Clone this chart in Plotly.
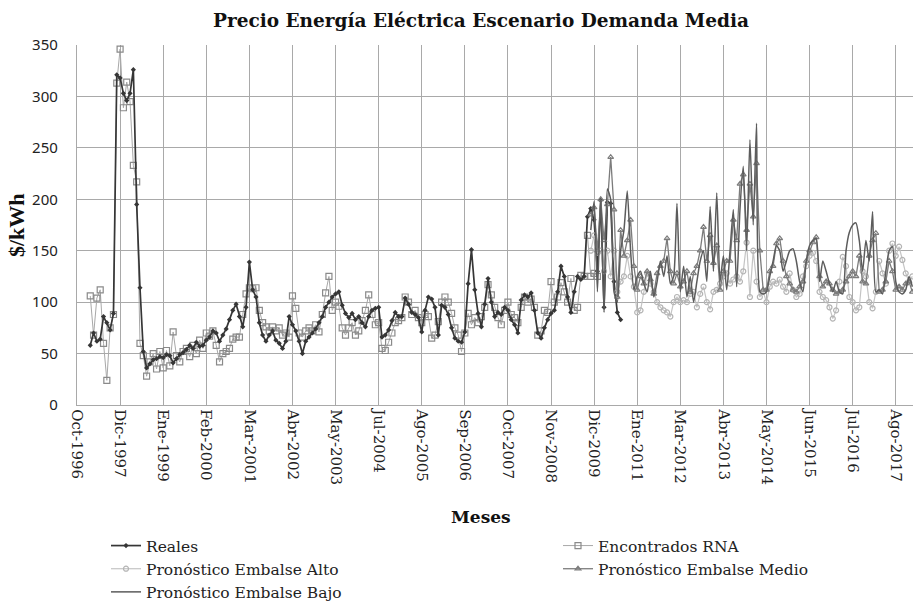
import plotly.graph_objects as go

tick_labels = ["Oct-1996", "Dic-1997", "Ene-1999", "Feb-2000", "Mar-2001", "Abr-2002",
               "May-2003", "Jul-2004", "Ago-2005", "Sep-2006", "Oct-2007", "Nov-2008",
               "Dic-2009", "Ene-2011", "Mar-2012", "Abr-2013", "May-2014", "Jun-2015",
               "Jul-2016", "Ago-2017"]
tick_step = 13
y_ticks = [0, 50, 100, 150, 200, 250, 300, 350]

# Reales: categories 4..164
reales_start = 4
reales = [58, 70, 62, 64, 86, 80, 73, 89, 321, 318, 303, 296, 303, 326, 195, 114, 52, 36,
          40, 44, 45, 47, 46, 49, 48, 41, 45, 49, 51, 54, 58, 55, 61, 57, 58, 63, 66, 72,
          70, 62, 68, 74, 83, 92, 98, 86, 76, 95, 139, 112, 105, 80, 68, 62, 68, 72, 63,
          60, 55, 62, 86, 78, 72, 62, 50, 62, 66, 70, 74, 80, 86, 95, 100, 105, 108, 110,
          97, 89, 85, 89, 83, 86, 80, 76, 86, 92, 94, 95, 66, 68, 73, 82, 90, 86, 86, 104,
          98, 90, 88, 85, 71, 92, 105, 103, 95, 68, 97, 95, 88, 75, 65, 62, 61, 71, 118,
          151, 112, 89, 76, 98, 123, 100, 86, 90, 88, 95, 92, 83, 78, 70, 102, 107, 105,
          109, 92, 70, 65, 75, 83, 89, 92, 110, 135, 125, 105, 90, 110, 125, 122, 125, 183,
          191, 180, 130, 199, 95, 197, 196, 120, 90, 83]

# Encontrados RNA: categories 4..157
rna_start = 4
rna = [106, 68, 104, 112, 60, 24, 75, 88, 313, 346, 289, 314, 295, 233, 217, 60, 48, 28,
       42, 50, 35, 52, 36, 53, 38, 71, 48, 42, 52, 55, 47, 58, 50, 63, 55, 70, 67, 72, 58,
       42, 50, 52, 55, 64, 66, 66, 88, 108, 114, 113, 114, 92, 80, 76, 72, 76, 72, 75, 68,
       70, 66, 106, 94, 70, 66, 72, 75, 72, 78, 71, 88, 109, 125, 92, 100, 96, 75, 68, 75,
       80, 68, 72, 82, 92, 107, 88, 78, 80, 55, 53, 61, 70, 80, 82, 85, 105, 100, 88, 92,
       85, 80, 88, 86, 65, 68, 81, 100, 105, 100, 89, 75, 68, 52, 70, 89, 78, 85, 80, 86,
       95, 117, 107, 95, 85, 78, 92, 100, 88, 85, 80, 95, 105, 100, 103, 95, 68, 72, 92,
       90, 120, 100, 105, 119, 110, 100, 123, 92, 95, 126, 125, 165, 125, 128, 125]

# Pronósticos: categories 155..252
fc_start = 155
alto = [150, 165, 148, 150, 130, 150, 125, 150, 110, 120, 125, 145, 125, 115,
        90, 92, 110, 128, 118, 110, 100, 95, 92, 90, 86, 100,
        105, 100, 102, 100, 108, 110, 95, 108, 115, 100, 93, 110, 112, 118, 125, 128,
        118, 122, 125, 120, 130, 158, 105, 150, 120, 105,
        110, 100, 115, 120, 118, 122, 115, 110, 128, 112, 105, 108, 125, 135, 145, 148,
        140, 110, 105, 102, 95, 84, 92, 120, 144, 135, 105, 100, 92, 95, 130, 125, 100,
        94, 110, 140, 128, 118, 150, 157, 145, 154, 141, 128, 120, 125]
medio = [185, 192, 150, 200, 160, 195, 241, 190, 105, 170, 145, 160, 180, 135,
         112, 125, 118, 130, 122, 108, 128, 135, 140, 162, 130, 118,
         128, 115, 120, 130, 110, 128, 135, 150, 173, 140, 165, 138, 155, 112, 130, 140,
         140, 180, 160, 215, 224, 170, 215, 183, 235, 150,
         112, 112, 130, 135, 157, 162, 140, 125, 118, 112, 110, 115, 120, 140, 150, 158,
         163, 125, 115, 120, 118, 112, 108, 110, 112, 120, 125, 130, 125, 145, 120, 118,
         145, 160, 167, 110, 112, 120, 140, 130, 112, 115, 112, 118, 120, 110]
bajo = [170, 198, 110, 200, 90, 210, 200, 110, 100, 150, 170, 208, 150, 112,
        125, 130, 118, 110, 130, 105, 120, 140, 125, 145, 118, 125,
        196, 110, 135, 105, 125, 100, 120, 140, 150, 120, 193, 130, 206, 120, 145, 112,
        150, 190, 115, 190, 232, 150, 258, 175, 274, 110,
        108, 110, 125, 140, 155, 150, 130, 140, 150, 152, 140, 120, 110, 140, 155, 160,
        162, 120, 140, 130, 118, 110, 120, 110, 108, 150, 168, 175, 177, 160, 130, 160,
        140, 188, 110, 112, 108, 130, 150, 154, 120, 110, 108, 112, 125, 115]

SERIF = "Liberation Serif"
WIDE_SERIF = "DejaVu Serif"


def xs(start, vals):
    return list(range(start, start + len(vals)))


fig = go.Figure()
fig.add_trace(go.Scatter(
    x=xs(rna_start, rna), y=rna, name="Encontrados RNA", mode="lines+markers",
    line=dict(color="#a8a8a8", width=1),
    marker=dict(symbol="square-open", size=6, color="#8a8a8a", line=dict(width=1.2)),
    legend="legend2", legendrank=1))
fig.add_trace(go.Scatter(
    x=xs(reales_start, reales), y=reales, name="Reales", mode="lines+markers",
    line=dict(color="#363636", width=1.7),
    marker=dict(symbol="diamond", size=4, color="#363636"),
    legend="legend", legendrank=1))
fig.add_trace(go.Scatter(
    x=xs(fc_start, alto), y=alto, name="Pronóstico Embalse Alto", mode="lines+markers",
    line=dict(color="#c4c4c4", width=1.2),
    marker=dict(symbol="circle-open", size=5, color="#b4b4b4", line=dict(width=1.2)),
    legend="legend", legendrank=2))
fig.add_trace(go.Scatter(
    x=xs(fc_start, medio), y=medio, name="Pronóstico Embalse Medio", mode="lines+markers",
    line=dict(color="#7c7c7c", width=1.3),
    marker=dict(symbol="triangle-up-open", size=5, color="#7c7c7c", line=dict(width=1.2)),
    legend="legend2", legendrank=2))
fig.add_trace(go.Scatter(
    x=xs(fc_start, bajo), y=bajo, name="Pronóstico Embalse Bajo", mode="lines",
    line=dict(color="#5c5c5c", width=1.5, shape="spline", smoothing=0.6),
    legend="legend", legendrank=3))

legend_common = dict(orientation="v", yref="container", y=1 - 529 / 602, yanchor="top",
                     xanchor="left", bgcolor="rgba(0,0,0,0)", tracegroupgap=0,
                     font=dict(family=WIDE_SERIF, size=15.5, color="#222222"))

fig.update_layout(
    width=913, height=602,
    margin=dict(l=77, r=0, t=45, b=197, autoexpand=False),
    paper_bgcolor="white", plot_bgcolor="white",
    font=dict(family=SERIF, size=13, color="#222222"),
    showlegend=True,
    legend=dict(x=(106 - 77) / 836, **legend_common),
    legend2=dict(x=(558 - 77) / 836, **legend_common),
    annotations=[
        dict(text="<b>Precio Energía Eléctrica Escenario Demanda Media</b>",
             xref="paper", yref="paper", x=0.483, y=1.0, yshift=25, showarrow=False,
             xanchor="center", yanchor="middle",
             font=dict(family=WIDE_SERIF, size=18.5, color="#111111")),
        dict(text="<b>$/kWh</b>", xref="paper", yref="paper", x=0, xshift=-61, y=0.5,
             xanchor="center", yanchor="middle", textangle=-90, showarrow=False,
             font=dict(family=SERIF, size=22, color="#111111")),
        dict(text="<b>Meses</b>", xref="paper", yref="paper", x=0.483, y=0, yshift=-112,
             xanchor="center", yanchor="middle", showarrow=False,
             font=dict(family=WIDE_SERIF, size=17, color="#111111")),
    ],
)
fig.update_xaxes(
    range=[0, 252.2], tickmode="array",
    tickvals=[i * tick_step for i in range(len(tick_labels))], ticktext=tick_labels,
    tickangle=90, showgrid=True, gridcolor="#a9a9a9", gridwidth=1.3,
    showline=True, linecolor="#a9a9a9", linewidth=1.3, zeroline=False,
    ticks="", tickfont=dict(family=WIDE_SERIF, size=15, color="#222222"))
fig.update_yaxes(
    range=[0, 350], tickmode="array", tickvals=y_ticks, ticktext=[str(v) for v in y_ticks],
    showgrid=True, gridcolor="#a9a9a9", gridwidth=1.3,
    showline=True, linecolor="#a9a9a9", linewidth=1.3, zeroline=False,
    ticks="", ticklabelstandoff=15, tickfont=dict(family="Noto Sans", size=15, color="#222222"))

fig.write_html("out.html", config={"displayModeBar": False},
               post_script="document.body.style.margin='0px';document.body.style.overflow='hidden';")
